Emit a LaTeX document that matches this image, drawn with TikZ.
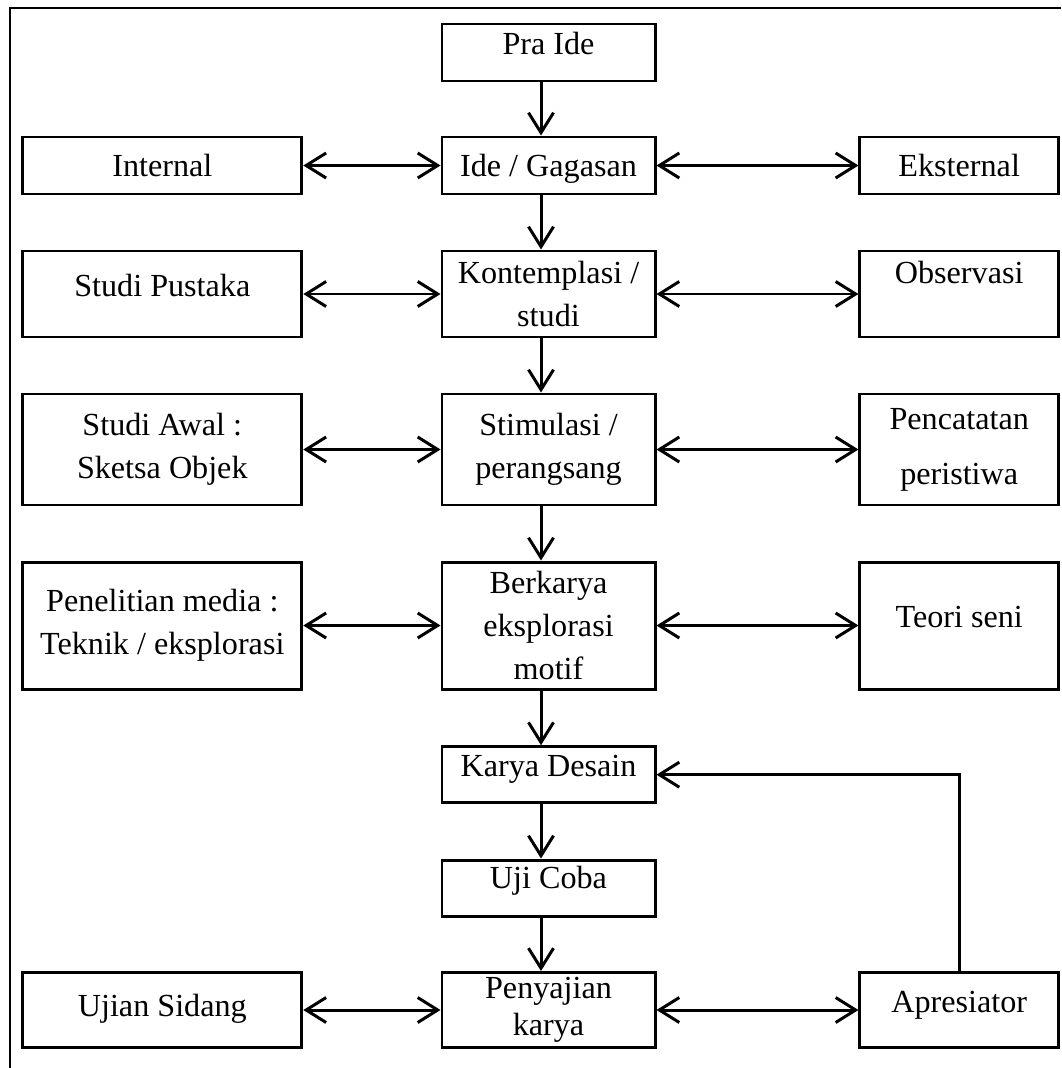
\documentclass[tikz,border=0pt]{standalone}
\usepackage{fontspec}
\setmainfont{Liberation Serif}
\usepackage{tikz}
\usetikzlibrary{arrows.meta}

\begin{document}
\begin{tikzpicture}[>={Straight Barb[length=2mm, width=2.5mm]},
  box/.style={draw, line width=0.85pt, inner sep=0pt, align=center, font=\fontsize{9.15}{12.2}\selectfont},
  oneline/.style={text height=0.215cm, text depth=#1},
  oneline/.default=0.17cm,
  colL/.style={minimum width=2.79cm},
  colC/.style={minimum width=2.13cm},
  colR/.style={minimum width=1.985cm},
  link/.style={line width=0.85pt}]

\useasboundingbox (0,0) rectangle (10.61,-10.68);

% Outer frame (cut off at the right and bottom)
\draw[link] (10.61,-0.08) -- (0.10,-0.08) -- (0.10,-10.68);

% Middle column
\node[box, colC, oneline, minimum height=0.57cm] (praide) at (5.485,-0.525) {Pra Ide};
\node[box, colC, oneline=0cm, minimum height=0.57cm] (ide) at (5.485,-1.655) {Ide / Gagasan};
\node[box, colC, minimum height=0.86cm] (kontemplasi) at (5.485,-2.94) {Kontemplasi /\\studi};
\node[box, colC, minimum height=1.11cm] (stimulasi) at (5.485,-4.495) {Stimulasi /\\perangsang};
\node[box, colC, minimum height=1.27cm] (berkarya) at (5.485,-6.255) {Berkarya\\eksplorasi\\motif};
\node[box, colC, oneline, minimum height=0.56cm] (karya) at (5.485,-7.747) {Karya Desain};
\node[box, colC, oneline=0.215cm, minimum height=0.56cm] (ujicoba) at (5.485,-8.88) {Uji Coba};
\node[box, colC, minimum height=0.75cm, font=\fontsize{9.15}{10.4}\selectfont] (penyajian) at (5.485,-10.10) {Penyajian\\karya};

% Left column
\node[box, colL, oneline=0cm, minimum height=0.57cm] (internal) at (1.623,-1.655) {Internal};
\node[box, colL, oneline, minimum height=0.86cm] (pustaka) at (1.623,-2.94) {Studi Pustaka};
\node[box, colL, minimum height=1.11cm] (studiawal) at (1.623,-4.495) {Studi Awal :\\Sketsa Objek};
\node[box, colL, minimum height=1.27cm] (penelitian) at (1.623,-6.255) {Penelitian media :\\Teknik / eksplorasi};
\node[box, colL, oneline=0.08cm, minimum height=0.75cm] (ujian) at (1.623,-10.10) {Ujian Sidang};

% Right column
\node[box, colR, oneline=0cm, minimum height=0.57cm] (eksternal) at (9.592,-1.655) {Eksternal};
\node[box, colR, oneline=0.435cm, minimum height=0.86cm] (observasi) at (9.592,-2.94) {Observasi};
\node[box, colR, minimum height=1.11cm, font=\fontsize{9.15}{15.6}\selectfont] (pencatatan) at (9.592,-4.495) {Pencatatan\\peristiwa};
\node[box, colR, oneline, minimum height=1.27cm] (teori) at (9.592,-6.255) {Teori seni};
\node[box, colR, oneline, minimum height=0.75cm] (apresiator) at (9.592,-10.10) {Apresiator};

% Main flow (slightly left of the box centres)
\coordinate (spine) at (5.41,0);
\draw[link, ->] (praide.south -| spine) -- (ide.north -| spine);
\draw[link, ->] (ide.south -| spine) -- (kontemplasi.north -| spine);
\draw[link, ->] (kontemplasi.south -| spine) -- (stimulasi.north -| spine);
\draw[link, ->] (stimulasi.south -| spine) -- (berkarya.north -| spine);
\draw[link, ->] (berkarya.south -| spine) -- (karya.north -| spine);
\draw[link, ->] (karya.south -| spine) -- (ujicoba.north -| spine);
\draw[link, ->] (ujicoba.south -| spine) -- (penyajian.north -| spine);

% Side links
\draw[link, <->] (internal) -- (ide);
\draw[link, <->] (ide) -- (eksternal);
\draw[link, <->] (pustaka) -- (kontemplasi);
\draw[link, <->] (kontemplasi) -- (observasi);
\draw[link, <->] (studiawal) -- (stimulasi);
\draw[link, <->] (stimulasi) -- (pencatatan);
\draw[link, <->] (penelitian) -- (berkarya);
\draw[link, <->] (berkarya) -- (teori);
\draw[link, <->] (ujian) -- (penyajian);
\draw[link, <->] (penyajian) -- (apresiator);

% Feedback
\draw[link, ->] (apresiator.north) |- (karya.east);

\end{tikzpicture}
\end{document}
